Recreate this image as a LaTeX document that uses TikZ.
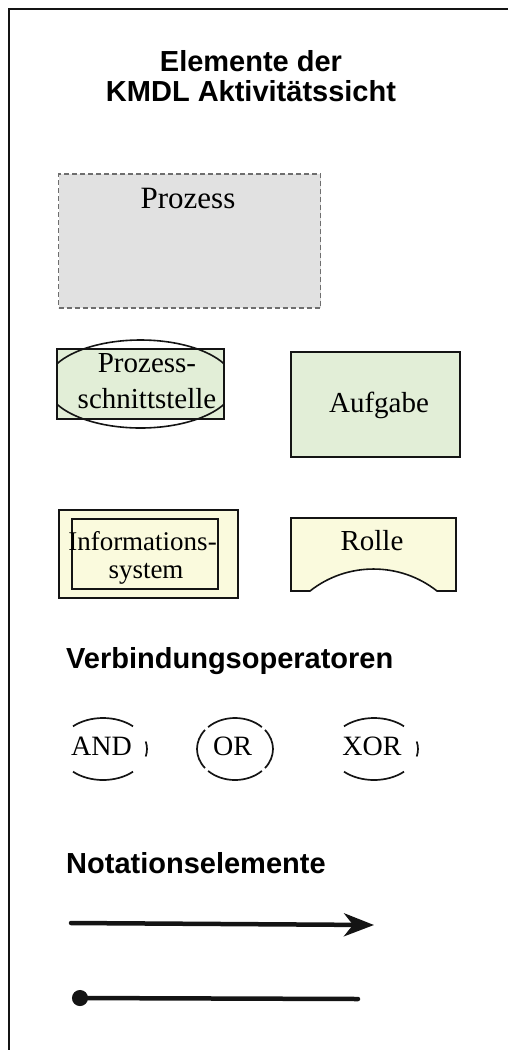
\documentclass[tikz,border=0pt]{standalone}
\usepackage{fontspec}
\setmainfont{Liberation Serif}
\newfontfamily\headfont{Liberation Sans}
\usetikzlibrary{arrows.meta}
\definecolor{procgray}{RGB}{225,225,225}
\definecolor{procline}{RGB}{110,110,110}
\definecolor{taskgreen}{RGB}{226,238,215}
\definecolor{roleyellow}{RGB}{250,250,221}
\definecolor{ink}{RGB}{20,20,20}
\tikzset{
  head/.style={font=\headfont\bfseries\fontsize{29}{30}\selectfont, inner sep=0pt},
  label/.style={font=\fontsize{29}{34}\selectfont, inner sep=0pt},
  shapebox/.style={draw=ink, line width=1.6pt, inner sep=0pt},
  opline/.style={draw=ink, line width=1.7pt},
}
\begin{document}
\begin{tikzpicture}[x=1pt, y=-1pt]
\useasboundingbox (0,0) rectangle (508,1050);
% outer frame (runs past the page edges on the right and at the bottom)
\draw[line width=2.4pt, ink] (9,1060) -- (9,9) -- (520,9);

% title
\node[head, anchor=base] (title1) at (251,71) {Elemente der};
\node[head, anchor=base] (title2) at (251,101) {KMDL Aktivitätssicht};

% process
\node[draw=procline, fill=procgray, dashed, dash pattern=on 5pt off 3pt, line width=1.4pt,
      minimum width=262pt, minimum height=134pt, inner sep=0pt] (proc) at (189.5,241) {};
\node[label, anchor=base, font=\fontsize{31}{34}\selectfont] (proctext) at (188,208) {Prozess};

% process interface: rectangle with an ellipse clipped to its sides
\node[shapebox, fill=taskgreen, minimum width=167pt, minimum height=70pt] (pif) at (140.5,384) {};
\begin{scope}
  \clip (57,330) rectangle (224,440);
  \draw[ink, line width=1.6pt] (pif.center) ellipse [x radius=94, y radius=44];
\end{scope}
\node[label, anchor=base] (pif1) at (147,372) {Prozess-};
\node[label, anchor=base] (pif2) at (147,408) {schnittstelle};

% task
\node[shapebox, fill=taskgreen, minimum width=169pt, minimum height=105pt] (task) at (375.5,404.5) {};
\node[label, anchor=base] (tasktext) at (379,412) {Aufgabe};

% information system: double rectangle
\node[shapebox, fill=roleyellow, minimum width=179pt, minimum height=88pt] (isys) at (148.5,554) {};
\node[shapebox, minimum width=146pt, minimum height=70pt] (isysin) at (145,554) {};
\node[label, anchor=base, font=\fontsize{27}{28}\selectfont] (is1) at (142.5,550) {Informations-};
\node[label, anchor=base, font=\fontsize{27}{28}\selectfont] (is2) at (146,578) {system};

% role: box with a curved cut-out at the bottom
\draw[ink, line width=1.6pt, fill=roleyellow]
  (291,518) -- (456,518) -- (456,591) -- (437,591)
  .. controls (400,561.7) and (347,561.7) .. (310,591)
  -- (291,591) -- cycle;
\node[label, anchor=base] (roletext) at (372,550) {Rolle};

% connection operators
\node[head, anchor=base west] (ops) at (66,668) {Verbindungsoperatoren};

\node[label, anchor=base, font=\fontsize{28}{30}\selectfont] (and) at (101.5,755) {AND};
\coordinate (andc) at (103,749);
\draw[opline] ([shift={(47:44 and 31)}]andc) arc[start angle=47, end angle=133, x radius=44, y radius=31];
\draw[opline] ([shift={(227:44 and 31)}]andc) arc[start angle=227, end angle=313, x radius=44, y radius=31];
\draw[opline] ([shift={(-14:44 and 31)}]andc) arc[start angle=-14, end angle=14, x radius=44, y radius=31];

\node[label, anchor=base, font=\fontsize{28}{30}\selectfont] (or) at (232.5,755) {OR};
\coordinate (orc) at (235,749);
\draw[opline] ([shift={(45:38 and 31)}]orc) arc[start angle=45, end angle=135, x radius=38, y radius=31];
\draw[opline] ([shift={(225:38 and 31)}]orc) arc[start angle=225, end angle=315, x radius=38, y radius=31];
\draw[opline] ([shift={(-38:38 and 31)}]orc) arc[start angle=-38, end angle=38, x radius=38, y radius=31];
\draw[opline] ([shift={(142:38 and 31)}]orc) arc[start angle=142, end angle=218, x radius=38, y radius=31];

\node[label, anchor=base, font=\fontsize{28}{30}\selectfont] (xor) at (372,755) {XOR};
\coordinate (xorc) at (374,749);
\draw[opline] ([shift={(47:44 and 31)}]xorc) arc[start angle=47, end angle=133, x radius=44, y radius=31];
\draw[opline] ([shift={(227:44 and 31)}]xorc) arc[start angle=227, end angle=313, x radius=44, y radius=31];
\draw[opline] ([shift={(-14:44 and 31)}]xorc) arc[start angle=-14, end angle=14, x radius=44, y radius=31];

% notation elements
\node[head, anchor=base west] (notation) at (66,873) {Notationselemente};

\coordinate (a1) at (71,923);
\coordinate (a2) at (374,925);
\draw[ink, line width=4.5pt, line cap=round,
      -{Stealth[length=30pt, width=23pt, inset=9pt]}] (a1) -- (a2);

\coordinate (d1) at (72,998);
\coordinate (d2) at (358,999);
\draw[ink, line width=4.5pt, line cap=round,
      {Circle[length=16pt]}-] (d1) -- (d2);
\end{tikzpicture}
\end{document}
